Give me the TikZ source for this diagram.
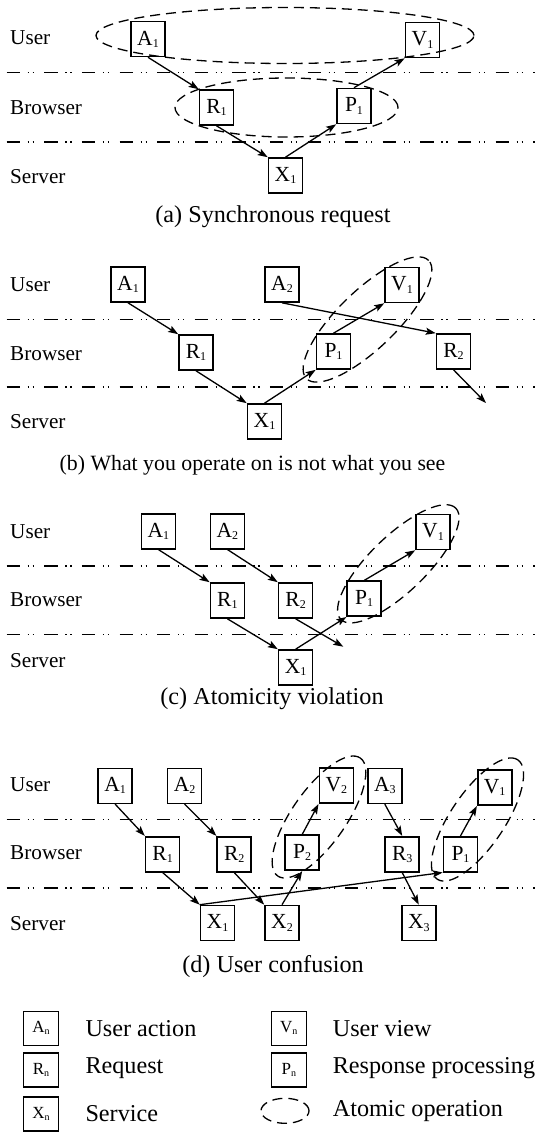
\documentclass[tikz,border=0pt]{standalone}
\usepackage{fontspec}
\setmainfont{Liberation Serif}
\usetikzlibrary{arrows.meta,calc}
\newcommand{\sbx}[1]{\raisebox{-0.1em}{\fontsize{12}{12}\selectfont #1}}
\newcommand{\lsb}[1]{\raisebox{-0.12em}{\fontsize{10}{10}\selectfont #1}}
\begin{document}
\begin{tikzpicture}[x=1pt,y=1pt,
  box/.style={draw, line width=1.6pt, minimum width=34pt, minimum height=35pt, inner sep=0pt, font=\fontsize{21.5}{21.5}\selectfont},
  lbox/.style={draw, line width=1.6pt, minimum width=35pt, minimum height=34pt, inner sep=0pt, font=\fontsize{17}{17}\selectfont},
  lanelab/.style={anchor=west, inner sep=0pt, font=\fontsize{21.2}{21.2}\selectfont},
  captxt/.style={inner sep=0pt, font=\fontsize{24.2}{24.2}\selectfont},
  captxtb/.style={inner sep=0pt, font=\fontsize{21.8}{21.8}\selectfont},
  legtxt/.style={anchor=west, inner sep=0pt, font=\fontsize{24.2}{24.2}\selectfont},
  flow/.style={line width=1.3pt, -{Stealth[length=10pt,width=7pt,inset=2pt]}},
  atomic/.style={line width=1.3pt, dash pattern=on 10pt off 6pt},
  lane/.style={line width=1.6pt, dash pattern=on 13.3pt off 7.7pt on 1.3pt off 3.7pt on 1.3pt off 10.3pt}
]
\useasboundingbox (0,0) rectangle (535,-1132);

% ---------------- (a) ----------------
\node[lanelab] (laU) at (10,-38) {User};
\node[lanelab] (laB) at (10,-108) {Browser};
\node[lanelab] (laS) at (10,-177) {Server};
\draw[lane] (6.7,-72.7) -- (535,-72.7);
\draw[lane] (6.7,-141.7) -- (535,-141.7);
\node[box] (aA1) at (148,-39) {A\sbx{1}};
\node[box] (aV1) at (422.5,-40) {V\sbx{1}};
\node[box] (aR1) at (216.5,-107.5) {R\sbx{1}};
\node[box] (aP1) at (354,-106) {P\sbx{1}};
\node[box] (aX1) at (285.5,-175.5) {X\sbx{1}};
\draw[atomic] (285,-35.5) ellipse [x radius=189, y radius=28];
\draw[atomic] (286.5,-107.5) ellipse [x radius=111.5, y radius=29.5];
\draw[flow] (aA1.south) -- (aR1.north west);
\draw[flow] (aR1.south) -- (aX1.north west);
\draw[flow] (aX1.north) -- (aP1.south west);
\draw[flow] (aP1.north) -- (aV1.south west);
\node[captxt] (capa) at (273,-216.7) {(a) Synchronous request};

% ---------------- (b) ----------------
\node[lanelab] (lbU) at (10,-285) {User};
\node[lanelab] (lbB) at (10,-353.3) {Browser};
\node[lanelab] (lbS) at (10,-421.7) {Server};
\draw[lane] (6.7,-319.3) -- (535,-319.3);
\draw[lane] (6.7,-386.7) -- (535,-386.7);
\node[box] (bA1) at (128,-284.5) {A\sbx{1}};
\node[box] (bA2) at (282,-284.5) {A\sbx{2}};
\node[box] (bV1) at (402,-285) {V\sbx{1}};
\node[box] (bR1) at (196,-352.5) {R\sbx{1}};
\node[box] (bP1) at (333.5,-351.5) {P\sbx{1}};
\node[box] (bR2) at (453.5,-351.5) {R\sbx{2}};
\node[box] (bX1) at (264.5,-421.5) {X\sbx{1}};
\coordinate (bE) at (486,-403);
\draw[atomic, rotate around={44:(367.5,-319.5)}] (367.5,-319.5) ellipse [x radius=85, y radius=29];
\draw[flow] (bA1.south) -- (bR1.north west);
\draw[flow] (bR1.south) -- (bX1.north west);
\draw[flow] (bX1.north) -- (bP1.south west);
\draw[flow] (bP1.north) -- (bV1.south west);
\draw[flow] (bA2.south) -- (bR2.north west);
\draw[flow] (bR2.south) -- (bE);
\node[captxtb] (capb) at (252.5,-465) {(b) What you operate on is not what you see};

% ---------------- (c) ----------------
\node[lanelab] (lcU) at (10,-531.7) {User};
\node[lanelab] (lcB) at (10,-600) {Browser};
\node[lanelab] (lcS) at (10,-661) {Server};
\draw[lane] (6.7,-566) -- (535,-566);
\draw[lane] (6.7,-634.5) -- (535,-634.5);
\node[box] (cA1) at (158.3,-531.2) {A\sbx{1}};
\node[box] (cA2) at (227.4,-531.2) {A\sbx{2}};
\node[box] (cV1) at (433,-532) {V\sbx{1}};
\node[box] (cR1) at (227.4,-600.5) {R\sbx{1}};
\node[box] (cR2) at (295.6,-600.5) {R\sbx{2}};
\node[box] (cP1) at (364.2,-598.7) {P\sbx{1}};
\node[box] (cX1) at (295.6,-667.5) {X\sbx{1}};
\coordinate (cE) at (343.3,-646.7);
\draw[atomic, rotate around={44:(398.3,-563.8)}] (398.3,-563.8) ellipse [x radius=80, y radius=28];
\draw[flow] (cA1.south) -- (cR1.north west);
\draw[flow] (cA2.south) -- (cR2.north west);
\draw[flow] (cR1.south) -- (cX1.north west);
\draw[flow] (cR2.south) -- (cE);
\draw[flow] (cX1.north) -- (cP1.south west);
\draw[flow] (cP1.north) -- (cV1.south west);
\node[captxt] (capc) at (272,-698.3) {(c) Atomicity violation};

% ---------------- (d) ----------------
\node[lanelab] (ldU) at (10,-785) {User};
\node[lanelab] (ldB) at (10,-853) {Browser};
\node[lanelab] (ldS) at (10,-923.3) {Server};
\draw[lane] (6.7,-819.3) -- (535,-819.3);
\draw[lane] (6.7,-887.7) -- (535,-887.7);
\node[box] (dA1) at (115.1,-785.8) {A\sbx{1}};
\node[box] (dA2) at (184.6,-785.8) {A\sbx{2}};
\node[box] (dV2) at (336.3,-785.7) {V\sbx{2}};
\node[box] (dA3) at (384.8,-785.8) {A\sbx{3}};
\node[box] (dV1) at (494.7,-787.7) {V\sbx{1}};
\node[box] (dR1) at (162.6,-854.2) {R\sbx{1}};
\node[box] (dR2) at (234.2,-854.2) {R\sbx{2}};
\node[box] (dP2) at (302.2,-852.7) {P\sbx{2}};
\node[box] (dR3) at (402.2,-854.2) {R\sbx{3}};
\node[box] (dP1) at (460.5,-854.2) {P\sbx{1}};
\node[box] (dX1) at (217.5,-923) {X\sbx{1}};
\node[box] (dX2) at (282,-923) {X\sbx{2}};
\node[box] (dX3) at (418.8,-923) {X\sbx{3}};
\draw[atomic, rotate around={55:(319,-817)}] (319,-817) ellipse [x radius=72, y radius=27];
\draw[atomic, rotate around={56:(477.5,-819.5)}] (477.5,-819.5) ellipse [x radius=72, y radius=27];
\draw[flow] (dA1.south) -- (dR1.north west);
\draw[flow] (dA2.south) -- (dR2.north west);
\draw[flow] (dA3.south) -- (dR3.north);
\draw[flow] (dR1.south) -- (dX1.north west);
\draw[flow] (dR2.south) -- (dX2.north west);
\draw[flow] (dR3.south) -- (dX3.north);
\draw[flow] (dX1.north west) -- (dP1.south west);
\draw[flow] (dX2.north) -- (dP2.south);
\draw[flow] (dP2.north) -- (dV2.south west);
\draw[flow] (dP1.north) -- (dV1.south west);
\node[captxt] (capd) at (273,-966.7) {(d) User confusion};

% ---------------- legend ----------------
\node[lbox] (kA) at (41,-1028.3) {A\lsb{n}};
\node[lbox] (kR) at (41,-1069.7) {R\lsb{n}};
\node[lbox] (kX) at (41,-1114.2) {X\lsb{n}};
\node[lbox] (kV) at (288.8,-1028.3) {V\lsb{n}};
\node[lbox] (kP) at (288.8,-1069.7) {P\lsb{n}};
\draw[atomic] (285,-1110.8) ellipse [x radius=24, y radius=12.5];
\node[legtxt] (tA) at (85.3,-1028.3) {User action};
\node[legtxt] (tR) at (85.3,-1068.3) {Request};
\node[legtxt] (tX) at (85.3,-1113.3) {Service};
\node[legtxt] (tV) at (332.6,-1028.3) {User view};
\node[legtxt] (tP) at (332.6,-1068.3) {Response processing};
\node[legtxt] (tE) at (332.6,-1111) {Atomic operation};
\end{tikzpicture}
\end{document}
